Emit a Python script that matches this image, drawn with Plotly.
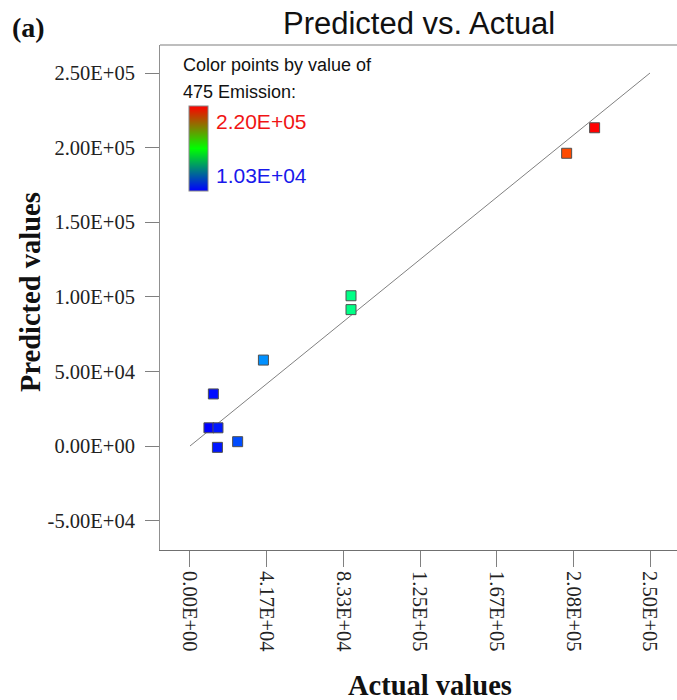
import plotly.graph_objects as go

# ---------------- data ----------------
actual_values = [219900, 204700, 87500, 87500, 39900, 12700, 10300, 15200, 14900, 25900]
predicted_values = [213300, 196200, 100700, 91400, 57600, 34900, 12200, 12200, -900, 2900]
color_min = 10300
color_max = 220000

x_tick_vals = [0, 41666.67, 83333.33, 125000, 166666.67, 208333.33, 250000]
x_tick_text = ["0.00E+00", "4.17E+04", "8.33E+04", "1.25E+05", "1.67E+05", "2.08E+05", "2.50E+05"]
y_tick_vals = [-50000, 0, 50000, 100000, 150000, 200000, 250000]
y_tick_text = ["-5.00E+04", "0.00E+00", "5.00E+04", "1.00E+05", "1.50E+05", "2.00E+05", "2.50E+05"]
diag = [0, 250000]

# ---------------- layout geometry (pixels) ----------------
W, H = 677, 700
L, R, T, B = 160, 0, 45, 150
PW, PH = W - L - R, H - T - B

def px(xp):
    return (xp - L) / PW

def py(yp):
    return (H - B - yp) / PH

hue_scale = [[0, "rgb(0,0,255)"], [0.25, "rgb(0,255,255)"], [0.5, "rgb(0,255,0)"],
             [0.75, "rgb(255,255,0)"], [1, "rgb(255,0,0)"]]
bar_scale = [[0, "rgb(0,0,255)"], [0.5, "rgb(0,255,0)"], [1, "rgb(255,0,0)"]]

fig = go.Figure()

fig.add_trace(go.Scatter(
    x=diag, y=diag, mode="lines",
    line=dict(color="#808080", width=1),
    hoverinfo="skip", showlegend=False))

fig.add_trace(go.Scatter(
    x=actual_values, y=predicted_values, mode="markers",
    marker=dict(symbol="square", size=10, color=actual_values,
                colorscale=hue_scale, cmin=color_min, cmax=color_max,
                line=dict(color="rgb(80,80,80)", width=1), showscale=False),
    showlegend=False))

# colour bar (legend) from dummy trace
fig.add_trace(go.Scatter(
    x=[-1e7, -1e7], y=[-1e7, -1e7], mode="markers",
    marker=dict(color=[color_min, color_max], colorscale=bar_scale,
                cmin=color_min, cmax=color_max, size=1, showscale=True,
                colorbar=dict(x=px(189), xanchor="left", y=py(149), yanchor="middle",
                              thickness=19, thicknessmode="pixels",
                              len=85, lenmode="pixels", xpad=0, ypad=0,
                              outlinewidth=1, outlinecolor="#888",
                              showticklabels=False, ticks="")),
    hoverinfo="skip", showlegend=False))

fig.update_layout(
    width=W, height=H,
    margin=dict(l=L, r=R, t=T, b=B),
    paper_bgcolor="white", plot_bgcolor="white",
    xaxis=dict(range=[-16300, 264670], tickvals=x_tick_vals, ticktext=x_tick_text,
               tickangle=90, showgrid=False, zeroline=False,
               showline=True, linecolor="#707070", linewidth=1,
               ticks="outside", ticklen=16, tickcolor="#808080",
               tickfont=dict(family="Liberation Serif", size=20.5, color="#222")),
    yaxis=dict(range=[-69700, 268770], tickvals=y_tick_vals, ticktext=y_tick_text,
               showgrid=False, zeroline=False,
               showline=True, linecolor="#909090", linewidth=1,
               ticks="outside", ticklen=14, tickcolor="#808080", ticklabelstandoff=6,
               tickfont=dict(family="Liberation Serif", size=20.5, color="#222")),
    shapes=[dict(type="line", xref="paper", yref="paper", x0=0, x1=1, y0=1, y1=1,
                 line=dict(color="#a8a8a8", width=1.5))],
)

ann = []
ann.append(dict(text="Predicted vs. Actual", x=px(419), y=py(24), xref="paper", yref="paper",
                xanchor="center", yanchor="middle", showarrow=False,
                font=dict(family="Liberation Sans", size=31, color="#111")))
ann.append(dict(text="<b>(a)</b>", x=px(28), y=py(28), xref="paper", yref="paper",
                xanchor="center", yanchor="middle", showarrow=False,
                font=dict(family="Liberation Serif", size=28, color="#111")))
ann.append(dict(text="Color points by value of", x=px(181), y=py(65), xref="paper", yref="paper",
                xanchor="left", yanchor="middle", showarrow=False,
                font=dict(family="Liberation Sans", size=18, color="#111")))
ann.append(dict(text="475 Emission:", x=px(181), y=py(92), xref="paper", yref="paper",
                xanchor="left", yanchor="middle", showarrow=False,
                font=dict(family="Liberation Sans", size=18, color="#111")))
ann.append(dict(text="2.20E+05", x=px(214), y=py(121), xref="paper", yref="paper",
                xanchor="left", yanchor="middle", showarrow=False,
                font=dict(family="Liberation Sans", size=21, color="rgb(240,20,20)")))
ann.append(dict(text="1.03E+04", x=px(214), y=py(175), xref="paper", yref="paper",
                xanchor="left", yanchor="middle", showarrow=False,
                font=dict(family="Liberation Sans", size=21, color="rgb(25,25,235)")))
ann.append(dict(text="<b>Predicted values</b>", x=px(30), y=py(292), xref="paper", yref="paper",
                xanchor="center", yanchor="middle", showarrow=False, textangle=-90,
                font=dict(family="Liberation Serif", size=28.5, color="#111")))
ann.append(dict(text="<b>Actual values</b>", x=px(430), y=py(685), xref="paper", yref="paper",
                xanchor="center", yanchor="middle", showarrow=False,
                font=dict(family="Liberation Serif", size=28.5, color="#111")))
fig.update_layout(annotations=ann)

fig.write_html("out.html", config={"displayModeBar": False},
               post_script="document.body.style.margin='0';")
